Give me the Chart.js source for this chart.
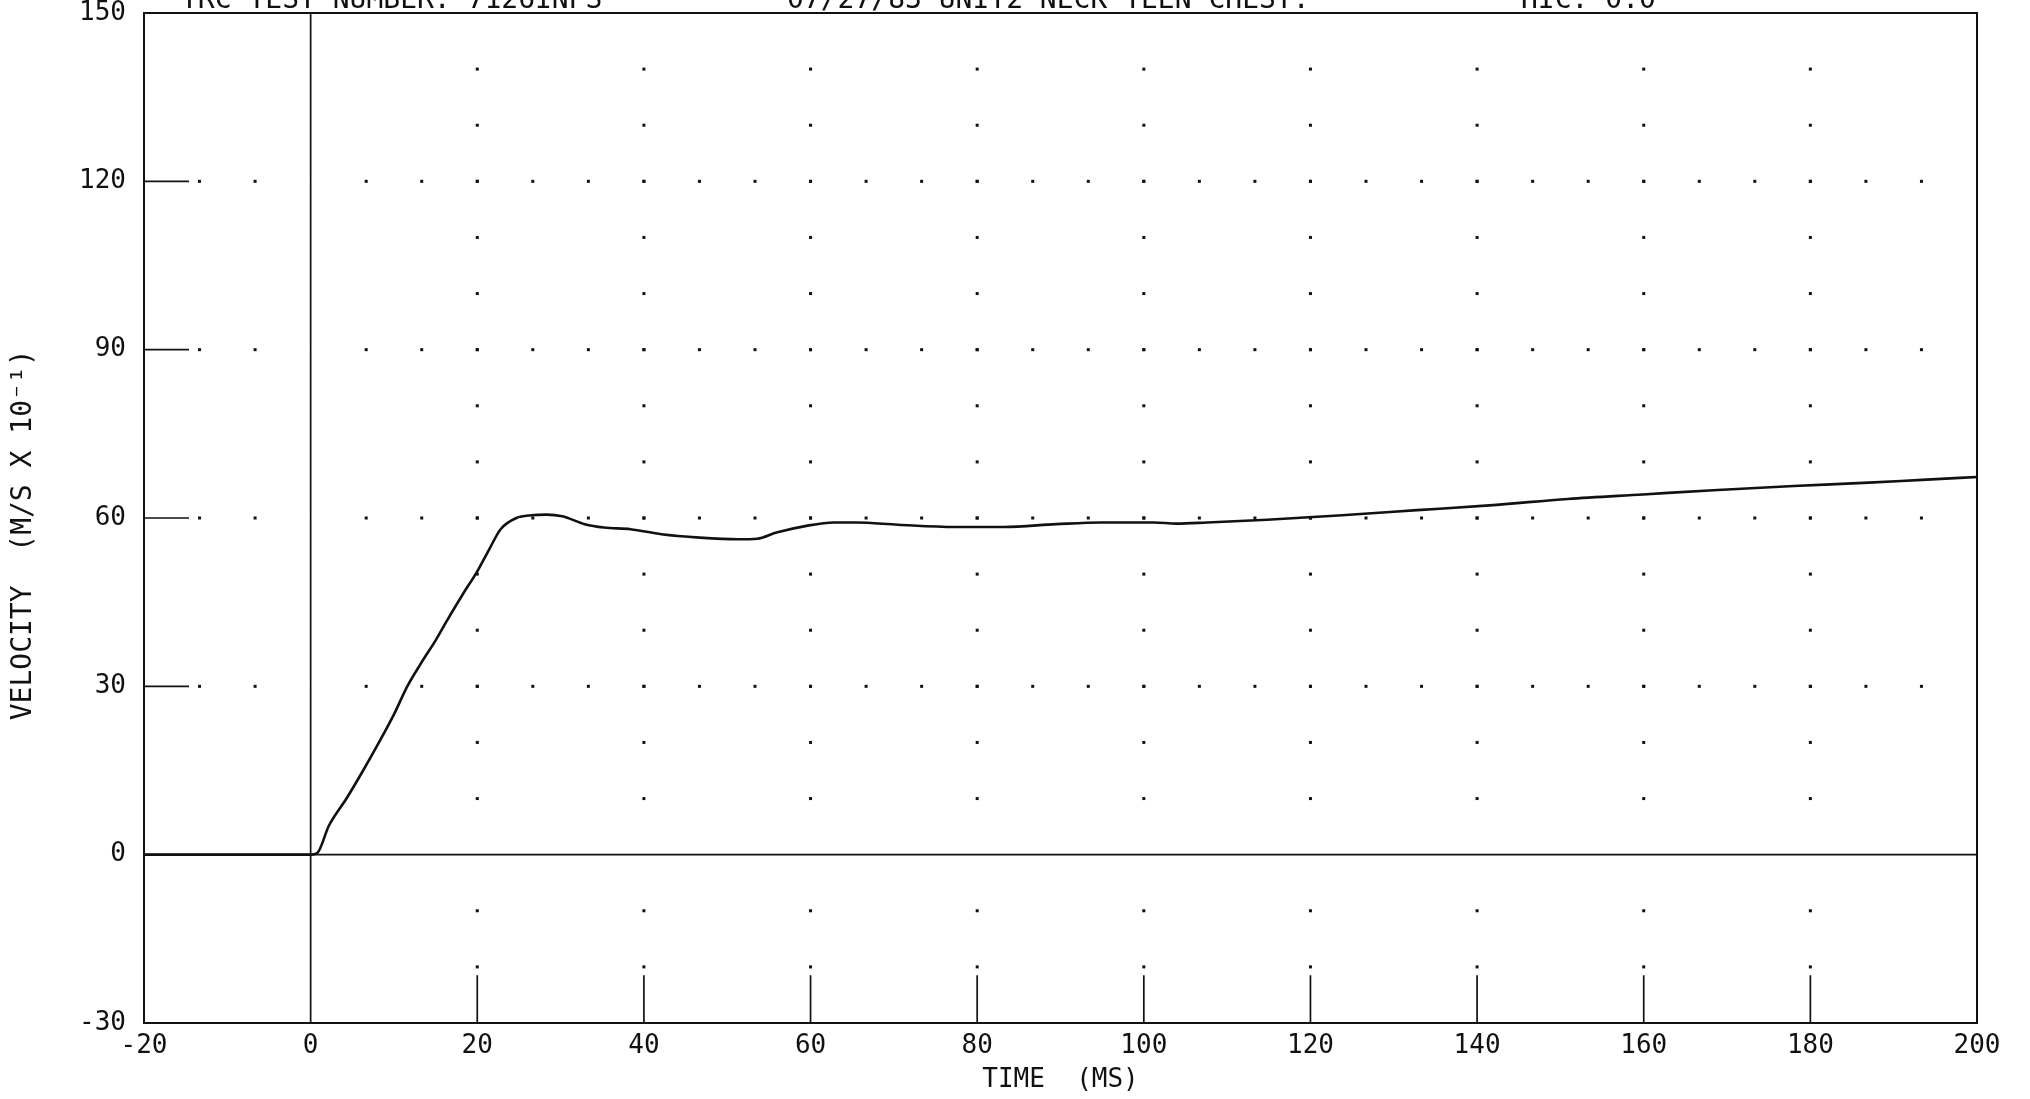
<!DOCTYPE html>
<html>
<head>
<meta charset="utf-8">
<title>Velocity vs time</title>
<script src="https://cdn.jsdelivr.net/npm/chart.js@4.4.1/dist/chart.umd.min.js"></script>
<style>
  body { margin: 0; background: #fff; }
  canvas { display: block; }
</style>
</head>
<body>
<canvas id="js--chart" width="2030" height="1099"></canvas>
<script>
// values, time in ms and velocity in m/s x 10^-1
const timeMs = [-20, 0, 0.8, 2.2, 4.3, 6.3, 8.2, 10, 11.6, 13.2, 15, 16.4, 18.3, 20, 21.5, 22.8, 24.7, 26.5,
    28.3, 30.2, 32.9, 35.2, 38.4, 42.1, 46.7, 51.3, 53.6, 55.9, 59.5, 62.8, 65.5, 70.5, 77.3, 83.2, 89.5,
    94.9, 101.2, 103.9, 107.6, 114.8, 123.8, 132.8, 141.9, 150.9, 159.9, 168.9, 178, 187, 193.4, 200];
const velocity = [0, 0, 0.3, 5.2, 10, 15, 20, 25, 30, 34, 38.2, 41.8, 46.5, 50.5, 54.6, 58, 60, 60.5,
    60.6, 60.3, 58.9, 58.3, 58, 57.1, 56.5, 56.2, 56.3, 57.4, 58.6, 59.2, 59.2, 58.8, 58.4, 58.4, 58.9,
    59.2, 59.2, 59, 59.2, 59.7, 60.5, 61.4, 62.3, 63.4, 64.2, 65, 65.7, 66.3, 66.8, 67.3];

const xTicks = [-20, 0, 20, 40, 60, 80, 100, 120, 140, 160, 180, 200];
const yTicks = [-30, 0, 30, 60, 90, 120, 150];
const headerTexts = ["TRC TEST NUMBER: 7126INPS", "07/27/83 UNIT2 NECK TEEN CHEST.", "HIC: 0.0"];

const ink = "#111";
const mono = "'DejaVu Sans Mono', 'Liberation Mono', monospace";

// plotter style grid: dots, short ticks, zero lines and frame
const plotterGrid = {
    id: "plotterGrid",
    beforeDatasetsDraw(chart) {
        const ctx = chart.ctx;
        const a = chart.chartArea;
        const x = chart.scales.x;
        const y = chart.scales.y;
        ctx.save();
        ctx.fillStyle = ink;

        // dotted rows at the labelled y values
        for (const yv of yTicks) {
            if (yv <= -30 || yv === 0 || yv >= 150) continue;
            for (let k = 1; k < 33; k++) {
                if (k === 3) continue;
                const px = x.getPixelForValue(-20 + k * 20 / 3);
                ctx.fillRect(px - 1.5, y.getPixelForValue(yv) - 1.5, 3, 3);
            }
        }
        // dotted columns at the labelled x values
        for (const xv of xTicks) {
            if (xv <= 0 || xv >= 200) continue;
            for (let v = -20; v <= 140; v += 10) {
                if (v === 0) continue;
                ctx.fillRect(x.getPixelForValue(xv) - 1.5, y.getPixelForValue(v) - 1.5, 3, 3);
            }
        }

        ctx.strokeStyle = ink;
        ctx.lineWidth = 1.7;
        ctx.beginPath();
        // short ticks on the left edge
        for (const yv of yTicks) {
            if (yv <= -30 || yv === 0 || yv >= 150) continue;
            ctx.moveTo(a.left, y.getPixelForValue(yv));
            ctx.lineTo(x.getPixelForValue(-14.6), y.getPixelForValue(yv));
        }
        // short ticks on the bottom edge
        for (const xv of xTicks) {
            if (xv <= 0 || xv >= 200) continue;
            ctx.moveTo(x.getPixelForValue(xv), a.bottom);
            ctx.lineTo(x.getPixelForValue(xv), y.getPixelForValue(-21.5));
        }
        // zero lines
        ctx.moveTo(a.left, y.getPixelForValue(0));
        ctx.lineTo(a.right, y.getPixelForValue(0));
        ctx.moveTo(x.getPixelForValue(0), a.top);
        ctx.lineTo(x.getPixelForValue(0), a.bottom);
        ctx.stroke();

        ctx.lineWidth = 2;
        ctx.strokeRect(a.left, a.top, a.right - a.left, a.bottom - a.top);
        ctx.restore();
    },
    afterDraw(chart) {
        // run header, cut off by the top of the sheet
        const ctx = chart.ctx;
        ctx.save();
        ctx.fillStyle = ink;
        ctx.font = "28px " + mono;
        ctx.textBaseline = "alphabetic";
        ctx.fillText(headerTexts[0], 181, 8);
        ctx.fillText(headerTexts[1], 787, 8);
        ctx.fillText(headerTexts[2], 1521, 8);
        ctx.restore();
    }
};

const config = {
    type: "line",
    data: {
        datasets: [{
            label: "Velocity",
            data: timeMs.map(function(t, i){ return {x: t, y: velocity[i]}; }),
            borderColor: ink,
            borderWidth: 2.6,
            pointRadius: 0,
            cubicInterpolationMode: "monotone",
            fill: false
        }]
    },
    options: {
        responsive: false,
        devicePixelRatio: 1,
        animation: false,
        layout: { padding: { left: 0, top: 13, right: 53, bottom: 0 } },
        plugins: {
            legend: { display: false },
            tooltip: { enabled: false }
        },
        scales: {
            x: {
                type: "linear",
                min: -20,
                max: 200,
                afterBuildTicks: function(scale){ scale.ticks = xTicks.map(function(v){ return {value: v}; }); },
                afterFit: function(scale){ scale.height = 76; scale.paddingLeft = 0; scale.paddingRight = 0; },
                grid: { display: false },
                border: { display: false },
                ticks: { color: ink, font: { family: mono, size: 26 }, padding: 0, maxRotation: 0, autoSkip: false },
                title: {
                    display: true,
                    text: "TIME  (MS)",
                    color: ink,
                    font: { family: mono, size: 26 },
                    padding: { top: 0, bottom: 3 }
                }
            },
            y: {
                type: "linear",
                min: -30,
                max: 150,
                afterBuildTicks: function(scale){ scale.ticks = yTicks.map(function(v){ return {value: v}; }); },
                afterFit: function(scale){ scale.width = 144; scale.paddingTop = 0; scale.paddingBottom = 0; },
                grid: { display: false },
                border: { display: false },
                ticks: { color: ink, font: { family: mono, size: 26 }, padding: 10, autoSkip: false },
                title: {
                    display: true,
                    text: "VELOCITY  (M/S X 10⁻¹)  ",
                    color: ink,
                    font: { family: mono, size: 28 },
                    padding: { top: 7, bottom: 0 }
                }
            }
        }
    },
    plugins: [plotterGrid]
};

new Chart(document.getElementById("js--chart"), config);
</script>
</body>
</html>
